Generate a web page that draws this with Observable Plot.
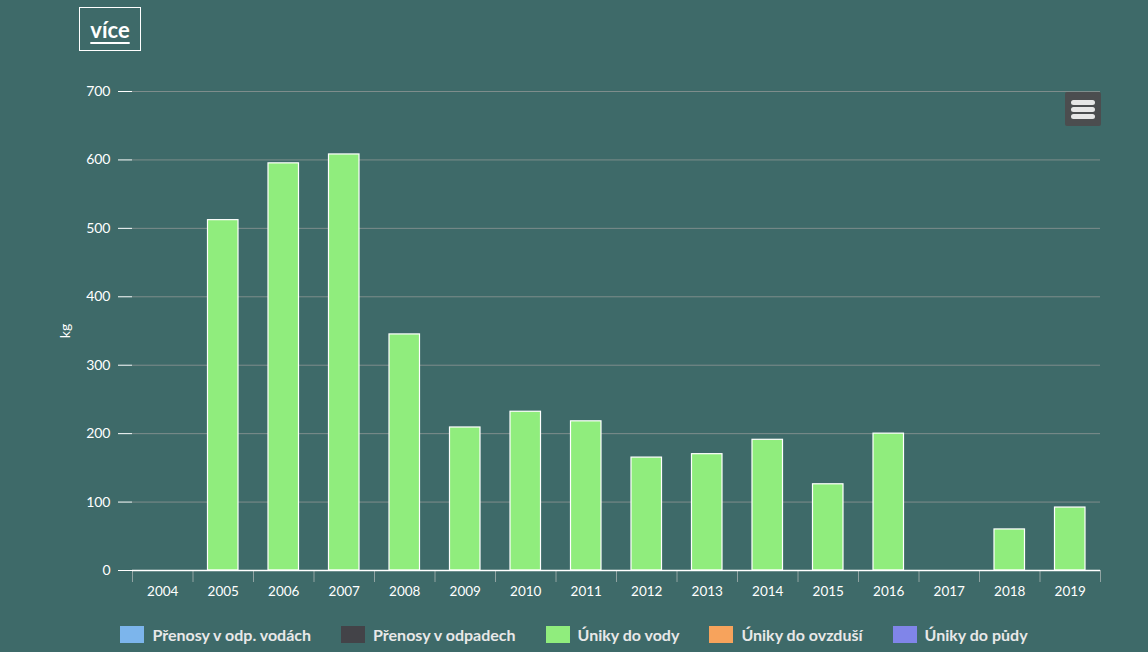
<!DOCTYPE html>
<html>
<head>
<meta charset="utf-8">
<script src="https://cdn.jsdelivr.net/npm/d3@7"></script>
<script src="https://cdn.jsdelivr.net/npm/@observablehq/plot@0.6"></script>
<style>
  html, body { margin: 0; padding: 0; background: #3e6a69; }
  #wrap { position: relative; width: 1148px; height: 652px; background: #3e6a69; overflow: hidden; font-family: Lato, "Open Sans", sans-serif; }
  #more { position: absolute; left: 79px; top: 7px; width: 60px; height: 42px; border: 1px solid #fff; color: #fff; font-weight: 700; font-size: 22px; display: flex; align-items: center; justify-content: center; }
  #more span { text-decoration: underline; text-underline-offset: 4px; text-decoration-thickness: 2px; }
  #menu { position: absolute; left: 1065px; top: 92px; width: 36px; height: 34px; background: #4b4d4f; border-radius: 2px; }
  #menu i { position: absolute; left: 6px; width: 24px; height: 5px; border-radius: 3px; background: #e6e6e6; }
  #chart { position: absolute; left: 0; top: 0; }
  #legend { position: absolute; top: 625px; left: 0; width: 1148px; display: flex; justify-content: center; gap: 30px; color: #e8e8e8; font-weight: 700; font-size: 16px; }
  .item { display: flex; align-items: center; }
  .sw { width: 24px; height: 17px; margin-right: 8px; }
</style>
</head>
<body>
<div id="wrap">
  <div id="chart"></div>
  <div id="more"><span>více</span></div>
  <div id="menu"><i style="top:8px"></i><i style="top:15px"></i><i style="top:22px"></i></div>
  <div id="legend"></div>
</div>
<script>
const years = [2004, 2005, 2006, 2007, 2008, 2009, 2010, 2011, 2012, 2013, 2014, 2015, 2016, 2017, 2018, 2019];
const unikyDoVody = [null, 512, 595, 608, 345, 209, 232, 218, 165, 170, 191, 126, 200, null, 60, 92];
const seriesNames = ["Přenosy v odp. vodách", "Přenosy v odpadech", "Úniky do vody", "Úniky do ovzduší", "Úniky do půdy"];
const seriesColors = ["#7cb5ec", "#434348", "#90ed7d", "#f7a35c", "#8085e9"];
const yTicks = [0, 100, 200, 300, 400, 500, 600, 700];

const data = years.map((y, i) => ({year: y, value: unikyDoVody[i]})).filter(d => d.value != null);
const bounds = years.map(y => y - 0.5).concat([years[years.length - 1] + 0.5]);

const font = "Lato, 'Open Sans', sans-serif";
const chart = Plot.plot({
  width: 1148,
  height: 610,
  marginLeft: 132,
  marginRight: 48,
  marginTop: 91,
  marginBottom: 40,
  style: {background: "transparent", color: "#ffffff", fontFamily: font, fontSize: "14px"},
  x: {type: "linear", domain: [years[0] - 0.5, years[years.length - 1] + 0.5]},
  y: {domain: [0, 700]},
  marks: [
    Plot.gridY(yTicks, {stroke: "#7e8d8c", strokeOpacity: 1, strokeWidth: 1}),
    Plot.axisY(yTicks, {tickSize: 14, tickPadding: 8, stroke: "#ffffff", strokeOpacity: 1, label: "kg", labelAnchor: "center", labelArrow: "none", labelOffset: 72, fill: "#ffffff", fontSize: 14}),
    Plot.axisX(bounds, {tickSize: 12, tickFormat: () => "", stroke: "#9aabaa", strokeOpacity: 0.9, label: null}),
    Plot.axisX(years, {tickSize: 0, tickPadding: 16, tickFormat: d => String(d), label: null, fill: "#ffffff", fontSize: 13.5}),
    Plot.rectY(data, {x1: d => d.year - 0.5, x2: d => d.year + 0.5, y: "value", fill: seriesColors[2], stroke: "#ffffff", strokeWidth: 1.2, insetLeft: 15, insetRight: 15}),
    Plot.ruleY([0], {stroke: "#ffffff", strokeWidth: 1.5})
  ]
});
document.getElementById("chart").appendChild(chart);

const legend = document.getElementById("legend");
seriesNames.forEach((n, i) => {
  const it = document.createElement("div");
  it.className = "item";
  it.innerHTML = `<div class="sw" style="background:${seriesColors[i]}"></div><span>${n}</span>`;
  legend.appendChild(it);
});
</script>
</body>
</html>
